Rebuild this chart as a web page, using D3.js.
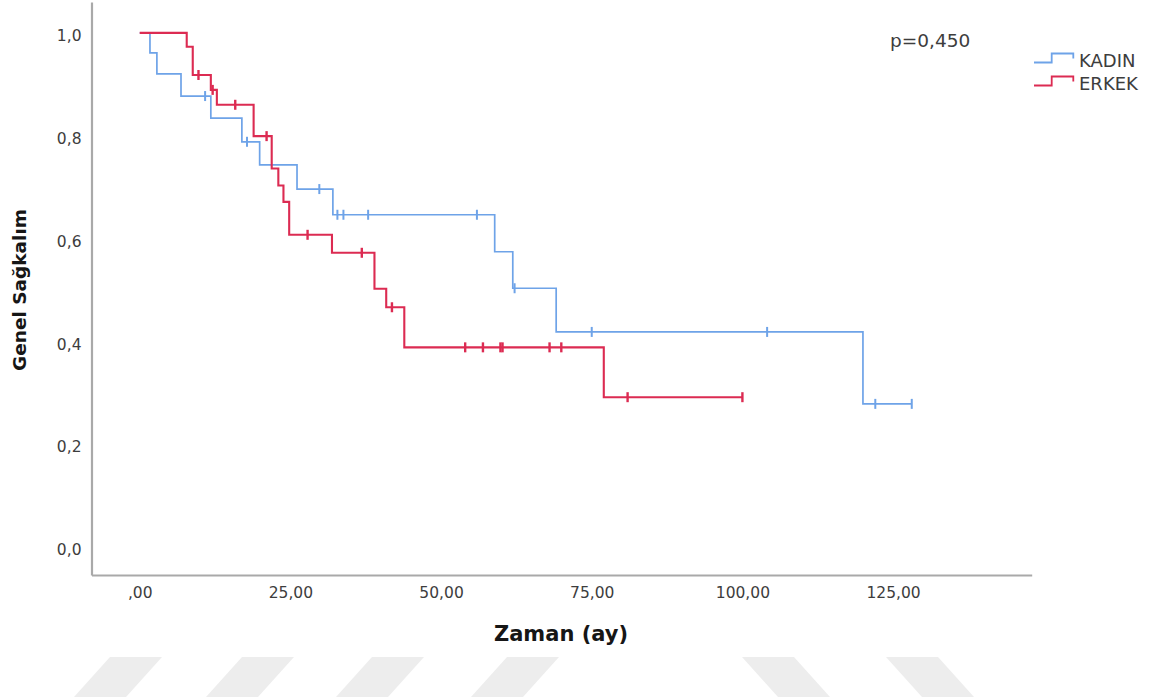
<!DOCTYPE html>
<html><head><meta charset="utf-8">
<script src="https://cdn.jsdelivr.net/npm/d3@7"></script>
<style>html,body{margin:0;padding:0;background:#fff;} svg{display:block}</style>
</head><body>
<svg id="chart" width="1168" height="697"></svg>
<script>
// ---- data ----
const xTickValues = [0, 25, 50, 75, 100, 125];
const xTickLabels = [",00", "25,00", "50,00", "75,00", "100,00", "125,00"];
const yTickValues = [0, 0.2, 0.4, 0.6, 0.8, 1.0];
const yTickLabels = ["0,0", "0,2", "0,4", "0,6", "0,8", "1,0"];
const groupNames = ["KADIN", "ERKEK"];

const kadinEventTimes = [1.7, 2.85, 6.85, 11.8, 16.95, 19.9, 26.1, 32.05, 58.9, 61.9, 69.1, 120.0];
const kadinSurvival   = [0.961, 0.920, 0.877, 0.834, 0.788, 0.743, 0.696, 0.646, 0.574, 0.503, 0.418, 0.278];
const kadinCensorTimes = [10.85, 17.8, 29.8, 32.8, 33.8, 37.9, 55.95, 62.2, 75.0, 104.1, 122.05, 128.1];
const kadinEndTime = 128.1;

const erkekEventTimes = [7.8, 8.8, 11.8, 12.8, 18.9, 21.9, 23.0, 23.85, 24.8, 31.9, 38.95, 40.9, 43.9, 77.0];
const erkekSurvival   = [0.973, 0.918, 0.889, 0.860, 0.799, 0.736, 0.703, 0.671, 0.607, 0.572, 0.502, 0.466, 0.388, 0.291];
const erkekCensorTimes = [9.75, 12.1, 15.85, 21.05, 27.85, 36.85, 41.85, 54.0, 56.95, 59.85, 60.2, 68.0, 69.95, 80.95, 100.0];
const erkekEndTime = 100.0;

const pValueLabel = "p=0,450";
const xTitle = "Zaman (ay)";
const yTitle = "Genel Sağkalım";

const colors = { KADIN: "#6ea3e8", ERKEK: "#dc2b52" };

// ---- chart ----
const svg = d3.select("#chart");
const FONT = "'DejaVu Sans', sans-serif";

// background watermark stripes
const stripes = [
  [[110,657],[162,657],[126,697],[74,697]],
  [[242,657],[294,657],[258,697],[206,697]],
  [[372,657],[424,657],[388,697],[336,697]],
  [[507,657],[559,657],[523,697],[471,697]],
  [[742,657],[794,657],[830,697],[778,697]],
  [[886,657],[938,657],[974,697],[922,697]]
];
svg.append("g").selectAll("polygon").data(stripes).join("polygon")
  .attr("points", d => d.map(p => p.join(",")).join(" "))
  .attr("fill", "#ededed");

const x = d3.scaleLinear().domain([-8, 148]).range([91.5, 1031.7]);
const y = d3.scaleLinear().domain([-0.055, 1.06]).range([575, 2]);

// axes
const xAxis = d3.axisBottom(x).tickValues(xTickValues)
  .tickFormat((d, i) => xTickLabels[i]).tickSize(0).tickSizeOuter(0).tickPadding(12);
const yAxis = d3.axisLeft(y).tickValues(yTickValues)
  .tickFormat((d, i) => yTickLabels[i]).tickSize(0).tickSizeOuter(0).tickPadding(10);

const gx = svg.append("g").attr("transform", "translate(0,575)").call(xAxis);
const gy = svg.append("g").attr("transform", "translate(91.5,0)").call(yAxis);
[gx, gy].forEach(g => {
  g.select(".domain").attr("stroke", "#a9a9a9").attr("stroke-width", 2.2);
  g.selectAll("text").attr("font-family", FONT).attr("font-size", 15.5).attr("fill", "#3d3d3d");
});
gy.selectAll("text").attr("y", 3);

// step function helpers
function stepPoints(times, surv, endTime) {
  const pts = [[0, 1]];
  times.forEach((t, i) => pts.push([t, surv[i]]));
  pts.push([endTime, surv[surv.length - 1]]);
  return pts;
}
function survAt(times, surv, t) {
  let s = 1;
  times.forEach((tt, i) => { if (tt <= t) s = surv[i]; });
  return s;
}
const line = d3.line().x(d => x(d[0])).y(d => y(d[1])).curve(d3.curveStepAfter);

const series = [
  { name: "KADIN", times: kadinEventTimes, surv: kadinSurvival, cens: kadinCensorTimes, end: kadinEndTime, w: 1.7 },
  { name: "ERKEK", times: erkekEventTimes, surv: erkekSurvival, cens: erkekCensorTimes, end: erkekEndTime, w: 2.1 }
];

series.forEach(s => {
  const g = svg.append("g");
  g.append("path")
    .attr("d", line(stepPoints(s.times, s.surv, s.end)))
    .attr("fill", "none").attr("stroke", colors[s.name]).attr("stroke-width", s.w);
  g.selectAll("line.c").data(s.cens).join("line")
    .attr("x1", d => x(d)).attr("x2", d => x(d))
    .attr("y1", d => y(survAt(s.times, s.surv, d)) - 5)
    .attr("y2", d => y(survAt(s.times, s.surv, d)) + 5)
    .attr("stroke", colors[s.name]).attr("stroke-width", s.w + 0.3);
});

// p value
svg.append("text").attr("x", 890).attr("y", 41).attr("dy", "0.35em")
  .attr("font-family", FONT).attr("font-size", 18.5).attr("fill", "#3d3d3d")
  .text(pValueLabel);

// legend
const legendY = [58, 81];
groupNames.forEach((name, i) => {
  const base = legendY[i];
  const sym = [[0, 4.5], [17.7, -4.5], [39.3, 0.5]];
  const symLine = d3.line().curve(d3.curveStepAfter);
  const pts = [[1034, base + 4.5], [1051.7, base - 4.5], [1073.3, base - 4.5]];
  svg.append("path")
    .attr("d", symLine(pts) + `V${base + 0.5}`)
    .attr("fill", "none").attr("stroke", colors[name]).attr("stroke-width", 1.8);
  svg.append("text").attr("x", 1079).attr("y", base + 3).attr("dy", "0.35em")
    .attr("font-family", FONT).attr("font-size", 18).attr("fill", "#3d3d3d")
    .text(name);
});

// axis titles
svg.append("text").attr("x", 561).attr("y", 634).attr("dy", "0.35em")
  .attr("text-anchor", "middle").attr("font-family", FONT).attr("font-weight", "bold")
  .attr("font-size", 21).attr("fill", "#161616").text(xTitle);
svg.append("text").attr("transform", "translate(20,290) rotate(-90)").attr("dy", "0.35em")
  .attr("text-anchor", "middle").attr("font-family", FONT).attr("font-weight", "bold")
  .attr("font-size", 18.5).attr("fill", "#161616").text(yTitle);
</script>
</body></html>
